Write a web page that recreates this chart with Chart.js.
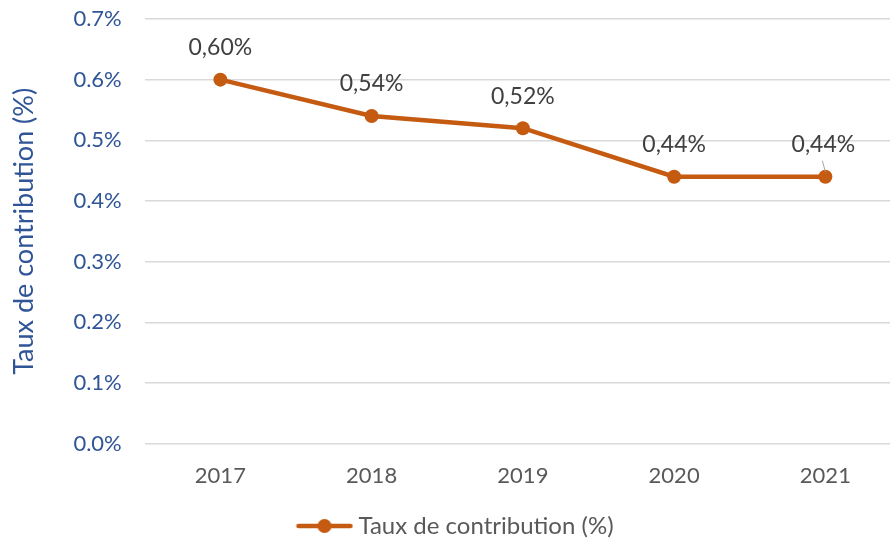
<!DOCTYPE html>
<html lang="fr">
<head>
    <title>Taux de contribution</title>
    <script src="https://cdn.jsdelivr.net/npm/chart.js"></script>
    <style>
        html, body { margin: 0; padding: 0; background: #fff; overflow: hidden; }
        #wrap { width: 908px; height: 548px; }
    </style>
</head>
<body>
    <div id="wrap"><canvas id="lineChart"></canvas></div>

    <script>
        // data
        const years = ['2017', '2018', '2019', '2020', '2021'];
        const contribution = [0.0060, 0.0054, 0.0052, 0.0044, 0.0044];
        const seriesName = 'Taux de contribution (%)';

        const orange = '#C55A11';
        const blue = '#2F5597';
        const grey = '#595959';
        const fontFamily = 'Lato, "Open Sans", sans-serif';

        // legend marker: line with a dot in the middle, like Excel
        const marker = document.createElement('canvas');
        marker.width = 58;
        marker.height = 16;
        (function () {
            const c = marker.getContext('2d');
            c.strokeStyle = orange;
            c.lineWidth = 4.5;
            c.lineCap = 'round';
            c.beginPath();
            c.moveTo(3, 8);
            c.lineTo(55, 8);
            c.stroke();
            c.fillStyle = orange;
            c.beginPath();
            c.arc(29, 8, 7, 0, Math.PI * 2);
            c.fill();
        })();

        // values above each point, French decimal comma
        const pointLabels = {
            id: 'pointLabels',
            afterDatasetsDraw(chart) {
                const ctx = chart.ctx;
                const meta = chart.getDatasetMeta(0);
                ctx.save();
                ctx.font = '23px ' + fontFamily;
                ctx.fillStyle = '#404040';
                ctx.textAlign = 'center';
                ctx.textBaseline = 'middle';
                meta.data.forEach((pt, i) => {
                    const txt = (contribution[i] * 100).toFixed(2).replace('.', ',') + '%';
                    let dx = 0;
                    if (i === contribution.length - 1) {
                        dx = -2;
                        // small leader line
                        ctx.strokeStyle = '#a6a6a6';
                        ctx.lineWidth = 1;
                        ctx.beginPath();
                        ctx.moveTo(pt.x - 3, pt.y - 16);
                        ctx.lineTo(pt.x, pt.y - 5);
                        ctx.stroke();
                    }
                    ctx.fillText(txt, pt.x + dx, pt.y - 32);
                });
                ctx.restore();
            }
        };

        const ctx = document.getElementById('lineChart').getContext('2d');
        new Chart(ctx, {
            type: 'line',
            data: {
                labels: years,
                datasets: [{
                    label: seriesName,
                    data: contribution,
                    borderColor: orange,
                    backgroundColor: orange,
                    borderWidth: 4.5,
                    tension: 0,
                    pointRadius: 7,
                    pointHoverRadius: 7,
                    pointBackgroundColor: orange,
                    pointBorderWidth: 0,
                    pointStyle: 'circle'
                }]
            },
            options: {
                responsive: true,
                maintainAspectRatio: false,
                animation: false,
                layout: { padding: { top: 19, left: 8, right: 0, bottom: 0 } },
                scales: {
                    x: {
                        offset: true,
                        grid: { display: false, drawTicks: false },
                        border: { display: false },
                        ticks: {
                            color: grey,
                            padding: 19,
                            font: { family: fontFamily, size: 22 }
                        }
                    },
                    y: {
                        min: 0,
                        max: 0.007,
                        // tick padding would otherwise also push the top down
                        afterFit: (scale) => { scale.paddingTop = 0; },
                        grid: { color: '#d9d9d9', lineWidth: 1.5, drawTicks: false },
                        border: { display: false },
                        ticks: {
                            stepSize: 0.001,
                            color: blue,
                            padding: 23,
                            font: { family: fontFamily, size: 22 },
                            callback: (v) => (v * 100).toFixed(1) + '%'
                        },
                        title: {
                            display: true,
                            text: seriesName,
                            color: blue,
                            font: { family: fontFamily, size: 27 },
                            padding: { top: 0, bottom: 10 }
                        }
                    }
                },
                plugins: {
                    legend: {
                        position: 'bottom',
                        labels: {
                            usePointStyle: true,
                            pointStyle: marker,
                            pointStyleWidth: 44,
                            color: grey,
                            padding: 6,
                            font: { family: fontFamily, size: 24 },
                            generateLabels: (chart) => [{
                                text: seriesName,
                                pointStyle: marker,
                                fontColor: grey,
                                lineWidth: 0,
                                strokeStyle: 'transparent',
                                fillStyle: orange,
                                datasetIndex: 0
                            }]
                        }
                    },
                    tooltip: { enabled: false }
                }
            },
            plugins: [pointLabels]
        });
    </script>
</body>
</html>
